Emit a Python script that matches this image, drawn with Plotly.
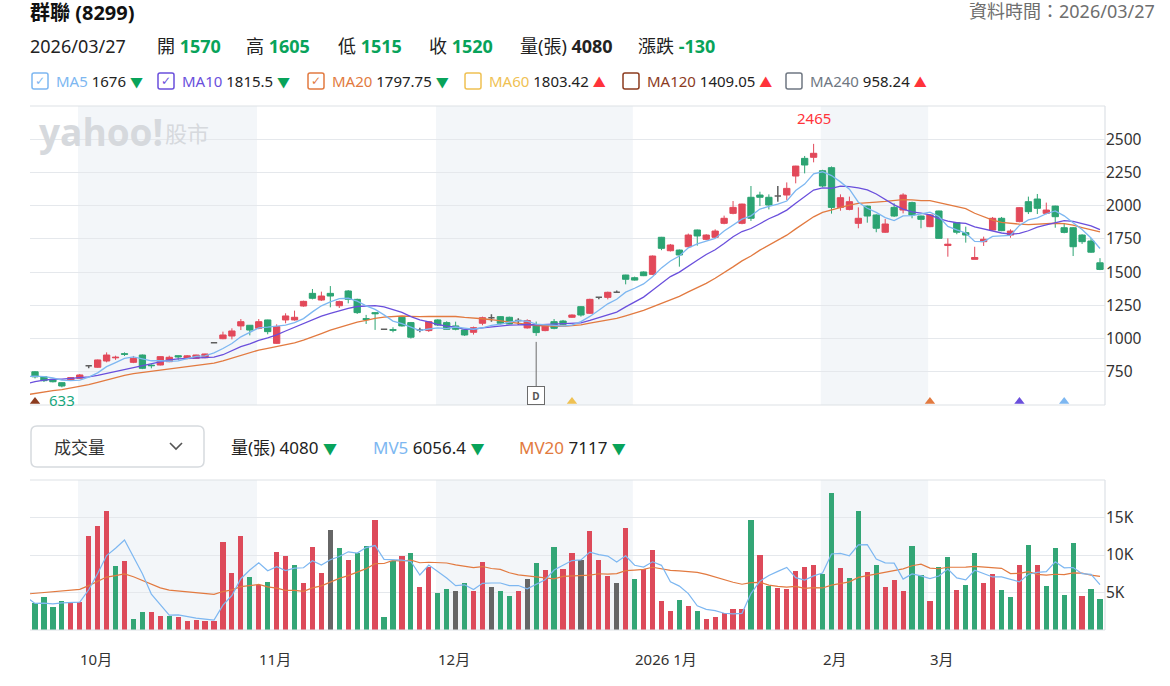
import plotly.graph_objects as go
import pandas as pd

W, H = 1170, 686

# ---------------- data ----------------
# closes / volumes just before the visible window (needed for the first moving-average points)
pre_close = [478, 480, 485, 490, 488, 490, 495, 505, 510, 520,
             537, 570, 610, 640, 660, 690, 705, 720, 730, 723]
pre_volume = [1600, 1600, 1600, 1600, 1600, 1600, 2500, 3200, 3800, 4500,
              5000, 9000, 12000, 13000, 11000, 8000, 4200, 3500, 3200, 3300]

opens = [750, 712, 693, 668, 688, 701, 796, 784, 831, 855,
         886, 821, 876, 800, 801, 826, 871, 849, 851, 856,
         969, 999, 1019, 1095, 1100, 1077, 1140, 964, 1140, 1140,
         1245, 1340, 1290, 1340, 1247, 1358, 1295, 1150, 1195, 1070,
         1067, 1160, 1120, 1065, 1060, 1140, 1120, 1095, 1065, 1047,
         1115, 1157, 1165, 1160, 1135, 1080, 1095, 1060, 1127, 1132,
         1160, 1240, 1190, 1310, 1310, 1348, 1478, 1458, 1501, 1483,
         1762, 1661, 1666, 1691, 1817, 1747, 1762, 1867, 1942, 1867,
         2063, 2080, 2063, 2073, 2080, 2223, 2356, 2364, 2263, 2286,
         1987, 1972, 1867, 1997, 1930, 1800, 1987, 1967, 2023, 1922,
         1842, 1960, 1700, 1872, 1797, 1596, 1729, 1817, 1905, 1779,
         1880, 2030, 2050, 1942, 1997, 1834, 1834, 1779, 1734, 1570]
highs = [755, 715, 696, 670, 708, 733, 796, 842, 896, 871,
         896, 869, 880, 806, 866, 871, 874, 876, 878, 886,
         971, 1052, 1077, 1147, 1102, 1147, 1142, 1107, 1190, 1210,
         1285, 1373, 1353, 1395, 1285, 1365, 1300, 1178, 1200, 1070,
         1085, 1162, 1125, 1082, 1130, 1145, 1130, 1127, 1068, 1090,
         1165, 1182, 1168, 1165, 1152, 1145, 1128, 1108, 1147, 1140,
         1182, 1245, 1300, 1312, 1353, 1362, 1480, 1466, 1505, 1625,
         1765, 1712, 1670, 1790, 1820, 1785, 1822, 1925, 2035, 2015,
         2148, 2105, 2085, 2148, 2175, 2300, 2374, 2465, 2270, 2295,
         2085, 2068, 1987, 2000, 1935, 1900, 2018, 2093, 2030, 1925,
         1935, 1962, 1754, 1875, 1842, 1691, 1767, 1915, 1915, 1822,
         1988, 2068, 2088, 2023, 2000, 1867, 1840, 1785, 1757, 1605]
lows = [700, 673, 670, 633, 685, 698, 776, 780, 821, 840,
        869, 815, 770, 776, 798, 822, 840, 845, 848, 852,
        967, 995, 994, 1064, 1024, 1070, 1032, 960, 1115, 1135,
        1240, 1295, 1283, 1235, 1230, 1265, 1185, 1110, 1065, 1070,
        1047, 1090, 1000, 1047, 1050, 1095, 1065, 1062, 1020, 1030,
        1100, 1127, 1110, 1108, 1102, 1075, 1020, 1055, 1070, 1100,
        1155, 1165, 1185, 1295, 1295, 1345, 1408, 1436, 1470, 1478,
        1665, 1655, 1541, 1685, 1699, 1740, 1755, 1860, 1935, 1860,
        1885, 1997, 1972, 2030, 2043, 2168, 2243, 2326, 2140, 1940,
        1962, 1965, 1830, 1872, 1800, 1795, 1915, 1942, 1905, 1830,
        1838, 1750, 1616, 1785, 1722, 1596, 1697, 1812, 1808, 1759,
        1875, 1937, 1937, 1935, 1834, 1792, 1621, 1712, 1645, 1515]
closes = [712, 683, 675, 643, 706, 726, 796, 839, 876, 859,
          882, 851, 776, 796, 864, 859, 862, 870, 876, 884,
          969, 1027, 1057, 1127, 1064, 1127, 1052, 1090, 1170, 1160,
          1280, 1303, 1320, 1320, 1278, 1295, 1195, 1143, 1187, 1070,
          1063, 1095, 1010, 1065, 1127, 1102, 1070, 1070, 1027, 1082,
          1157, 1157, 1115, 1110, 1135, 1135, 1045, 1102, 1077, 1107,
          1177, 1177, 1295, 1310, 1348, 1348, 1446, 1440, 1473, 1621,
          1679, 1704, 1629, 1779, 1772, 1779, 1809, 1905, 1987, 2012,
          1905, 2063, 2005, 2073, 2130, 2298, 2306, 2394, 2148, 1987,
          2060, 2030, 1905, 1922, 1830, 1862, 1922, 2080, 1930, 1897,
          1930, 1754, 1710, 1800, 1779, 1610, 1747, 1905, 1812, 1809,
          1985, 1955, 1980, 1967, 1917, 1799, 1691, 1729, 1650, 1520]
volumes = [3560, 4360, 3025, 3870, 3690, 3690, 12530, 13870, 15870, 8530,
           9200, 1510, 2355, 2355, 1870, 1870, 1690, 1200, 1330, 1200,
           1200, 11690, 7560, 12530, 7020, 6000, 6360, 10360, 9870, 8670,
           6220, 11020, 7560, 13330, 10890, 9330, 10220, 11200, 14670, 1690,
           9200, 9870, 10220, 5690, 8360, 4890, 5470, 5200, 6220, 5200,
           9020, 5690, 5200, 4530, 5200, 6840, 8890, 8000, 11020, 8180,
           10220, 9330, 13200, 9330, 7200, 6220, 13560, 6840, 8180, 10670,
           3870, 2530, 4000, 3200, 2530, 1510, 1690, 2220, 2850, 2850,
           14670, 10000, 5910, 5650, 5470, 7870, 8400, 8670, 7510, 18220,
           8220, 6890, 15870, 7690, 8670, 5690, 6670, 5200, 11200, 7330,
           3870, 8400, 9780, 5330, 6000, 10310, 6220, 7510, 5330, 4360,
           8670, 11330, 8670, 5870, 10890, 4670, 11560, 4530, 5470, 4080]

month_start_idx = [5, 25, 45, 67, 88, 100]
month_labels = ['10月', '11月', '12月', '2026 1月', '2月', '3月']
shaded_month_pos = [0, 2, 4]          # Oct, Dec, Feb bands
price_ticks = [750, 1000, 1250, 1500, 1750, 2000, 2250, 2500]
price_range = [500, 2750]
vol_ticks = [5000, 10000, 15000]
vol_tick_labels = ['5K', '10K', '15K']
vol_range = [0, 20000]
event_idx = [0, 60, 100, 110, 115]
event_ma = ['MA120', 'MA60', 'MA20', 'MA10', 'MA5']
dividend_idx = 56

header_title = '群聯 (8299)'
header_time = '資料時間：2026/03/27'
quote_date = '2026/03/27'
quote_items = [('開', '1570'), ('高', '1605'), ('低', '1515'), ('收', '1520')]
quote_volume = '4080'
quote_change = '-130'
ma_legend = [('MA5', '1676', 'down', True), ('MA10', '1815.5', 'down', True),
             ('MA20', '1797.75', 'down', True), ('MA60', '1803.42', 'up', False),
             ('MA120', '1409.05', 'up', False), ('MA240', '958.24', 'up', False)]
mv_legend = [('量(張)', '4080'), ('MV5', '6056.4'), ('MV20', '7117')]

# ---------------- styles ----------------
RED = '#e2495a'
GREEN = '#2ca473'
GRAY = '#5e5e5e'
VRED = '#dd4a5a'
VGREEN = '#33a676'
VGRAY = '#666666'
MA_COL = {'MA5': '#7db7f1', 'MA10': '#6a4fdc', 'MA20': '#e27a40',
          'MA60': '#efc153', 'MA120': '#8c3b1e', 'MA240': '#6f7782'}
BAND = '#f3f6f9'
GRID = '#e5e8ec'
BORDER = '#dde1e6'
TGREEN = '#08a35a'
TRED = '#ff333a'
FONT = 'Noto Sans, Noto Sans CJK TC, sans-serif'

X0, X1 = 30, 1105
P_TOP, P_BOT = 106, 405
V_TOP, V_BOT = 480, 630


def px(x):
    return x / W


def py(y):
    return 1 - y / H


n = len(closes)
idx = list(range(n))
npre = len(pre_close)

# moving averages
full_c = pd.Series(pre_close + closes, dtype=float)
full_v = pd.Series(pre_volume + volumes, dtype=float)
ma_x = list(range(-1, n))
ma = {k: full_c.rolling(p).mean().iloc[npre - 1:].tolist() for k, p in [('MA5', 5), ('MA10', 10), ('MA20', 20)]}
mv5 = full_v.rolling(5).mean().iloc[npre - 1:].tolist()
mv20 = full_v.rolling(20).mean().iloc[npre - 1:].tolist()

fig = go.Figure()

# candles split by direction
groups = {'up': [], 'down': [], 'flat': []}
for i in idx:
    if closes[i] > opens[i]:
        groups['up'].append(i)
    elif closes[i] < opens[i]:
        groups['down'].append(i)
    else:
        groups['flat'].append(i)
for key, col, lw in [('up', RED, 1), ('down', GREEN, 1), ('flat', GRAY, 1.5)]:
    g = groups[key]
    fig.add_trace(go.Candlestick(
        x=g, open=[opens[i] for i in g], high=[highs[i] for i in g],
        low=[lows[i] for i in g], close=[closes[i] for i in g],
        increasing=dict(line=dict(color=col, width=lw), fillcolor=col),
        decreasing=dict(line=dict(color=col, width=lw), fillcolor=col),
        whiskerwidth=0, showlegend=False, hoverinfo='skip', xaxis='x', yaxis='y'))

for k in ['MA20', 'MA10', 'MA5']:
    fig.add_trace(go.Scatter(x=ma_x, y=ma[k], mode='lines', line=dict(color=MA_COL[k], width=1.3),
                             showlegend=False, hoverinfo='skip', xaxis='x', yaxis='y'))

# event triangles at bottom of price panel
fig.add_trace(go.Scatter(x=event_idx, y=[price_range[0] + 26] * len(event_idx), mode='markers',
                         marker=dict(symbol='triangle-up', size=9, color=[MA_COL[m] for m in event_ma]),
                         showlegend=False, hoverinfo='skip', xaxis='x', yaxis='y', cliponaxis=False))

# volume
prev_close = [pre_close[-1]] + closes[:-1]
vcol = [VRED if c > p else (VGREEN if c < p else VGRAY) for c, p in zip(closes, prev_close)]
fig.add_trace(go.Bar(x=idx, y=volumes, marker=dict(color=vcol, line=dict(width=0)), width=0.58,
                     showlegend=False, hoverinfo='skip', xaxis='x2', yaxis='y2'))
fig.add_trace(go.Scatter(x=ma_x, y=mv20, mode='lines', line=dict(color=MA_COL['MA20'], width=1.2),
                         showlegend=False, hoverinfo='skip', xaxis='x2', yaxis='y2'))
fig.add_trace(go.Scatter(x=ma_x, y=mv5, mode='lines', line=dict(color=MA_COL['MA5'], width=1.2),
                         showlegend=False, hoverinfo='skip', xaxis='x2', yaxis='y2'))

xr = [-0.56, n - 0.44]
shapes = []
# month bands
bounds = month_start_idx + [n]
for k in shaded_month_pos:
    a, b = month_start_idx[k] - 0.2, bounds[k + 1] - 0.2
    shapes.append(dict(type='rect', xref='x', yref='paper', x0=a, x1=b, y0=py(P_BOT), y1=py(P_TOP),
                       fillcolor=BAND, line=dict(width=0), layer='below'))
    shapes.append(dict(type='rect', xref='x2', yref='paper', x0=a, x1=b, y0=py(V_BOT), y1=py(V_TOP),
                       fillcolor=BAND, line=dict(width=0), layer='below'))
# panel borders (top, bottom, right)
for t, b in [(P_TOP, P_BOT), (V_TOP, V_BOT)]:
    for yy in (t, b):
        shapes.append(dict(type='line', xref='paper', yref='paper', x0=px(X0), x1=px(X1), y0=py(yy), y1=py(yy),
                           line=dict(color=BORDER, width=1.2)))
    shapes.append(dict(type='line', xref='paper', yref='paper', x0=px(X1), x1=px(X1), y0=py(t), y1=py(b),
                       line=dict(color=BORDER, width=1.2)))
# dividend marker line
shapes.append(dict(type='line', xref='x', yref='y', x0=dividend_idx, x1=dividend_idx,
                   y0=price_range[0] + 140, y1=lows[dividend_idx] - 45, line=dict(color='#6b6b6b', width=1)))


def rounded(x0, y0, x1, y1, r):
    def P(x, y):
        return f"{px(x):.5f},{py(y):.5f}"
    return (f"M {P(x0 + r, y0)} L {P(x1 - r, y0)} Q {P(x1, y0)} {P(x1, y0 + r)} L {P(x1, y1 - r)} "
            f"Q {P(x1, y1)} {P(x1 - r, y1)} L {P(x0 + r, y1)} Q {P(x0, y1)} {P(x0, y1 - r)} "
            f"L {P(x0, y0 + r)} Q {P(x0, y0)} {P(x0 + r, y0)} Z")


# dropdown box + chevron
shapes.append(dict(type='path', xref='paper', yref='paper', path=rounded(31, 426, 204, 467, 6),
                   line=dict(color='#d6dade', width=1.5), fillcolor='white'))
shapes.append(dict(type='path', xref='paper', yref='paper',
                   path=f"M {px(170):.5f},{py(443):.5f} L {px(176):.5f},{py(449):.5f} L {px(182):.5f},{py(443):.5f}",
                   line=dict(color='#555555', width=1.6)))

annotations = []


def ann(x, y, text, size=16, color='#222222', xanchor='left', family=FONT, **kw):
    d = dict(x=px(x), y=py(y), xref='paper', yref='paper', text=text, showarrow=False,
             xanchor=xanchor, yanchor='middle', font=dict(size=size, color=color, family=family))
    d.update(kw)
    annotations.append(d)


# header
ann(28, 12, f"<b>{header_title}</b>", size=20, color='#111111')
ann(1157, 11, header_time, size=18, color='#6e6e6e', xanchor='right')
ann(28, 46, quote_date, size=18)
qx = [155, 244, 336, 427]
for (lab, val), x in zip(quote_items, qx):
    ann(x, 46, f"{lab} <span style='color:{TGREEN}'><b>{val}</b></span>", size=18)
ann(518, 46, f"量(張) <b>{quote_volume}</b>", size=18)
ann(636, 46, f"漲跌 <span style='color:{TGREEN}'><b>{quote_change}</b></span>", size=18)

# MA legend with checkboxes
box_x = [32, 158, 308, 465, 623, 786]
for (name, val, d, checked), bx in zip(ma_legend, box_x):
    c = MA_COL[name]
    shapes.append(dict(type='path', xref='paper', yref='paper', path=rounded(bx, 73, bx + 16, 89, 2),
                       line=dict(color=c, width=1.5), fillcolor='white'))
    if checked:
        ann(bx + 8, 81, '✓', size=12, color=c, xanchor='center', family='DejaVu Sans')
    arrow = f"<span style='color:{TGREEN if d == 'down' else TRED}; font-size:13px'>{'▼' if d == 'down' else '▲'}</span>"
    ann(bx + 22, 81, f"<span style='color:{c}'>{name}</span> {val} {arrow}", size=15)

# volume header
ann(52, 447, '成交量', size=17, color='#333333')
mv_x = [229, 371, 517]
mv_cols = ['#222222', MA_COL['MA5'], MA_COL['MA20']]
for (name, val), x, c in zip(mv_legend, mv_x, mv_cols):
    ann(x, 447, f"<span style='color:{c}'>{name}</span> {val} <span style='color:{TGREEN}; font-size:14px'>▼</span>",
        size=17)

# watermark
ann(37, 131, '<b>yahoo!</b>', size=37, color='#d6d9dd', family='Open Sans, sans-serif')
ann(163, 132, '股市', size=22, color='#d6d9dd', family='Noto Sans CJK TC')

# month labels
for m, lab in zip(month_start_idx, month_labels):
    annotations.append(dict(x=m - 0.2, y=py(659), xref='x2', yref='paper', text=lab, showarrow=False,
                            xanchor='left', yanchor='middle', font=dict(size=15, color='#333333', family=FONT)))

# high / low labels
hi_i = max(idx, key=lambda i: highs[i])
lo_i = min(idx, key=lambda i: lows[i])
annotations.append(dict(x=hi_i, y=highs[hi_i], xref='x', yref='y', text=str(highs[hi_i]), showarrow=False,
                        yanchor='bottom', yshift=14, font=dict(size=15, color=TRED, family=FONT)))
annotations.append(dict(x=lo_i, y=lows[lo_i], xref='x', yref='y', text=str(lows[lo_i]), showarrow=False,
                        yanchor='top', yshift=-1, font=dict(size=15, color='#17a77d', family=FONT)))
# dividend box
annotations.append(dict(x=dividend_idx, y=price_range[0] + 68, xref='x', yref='y', text='<b>D</b>',
                        showarrow=False, bgcolor='white', bordercolor='#6b6b6b', borderwidth=1, borderpad=2,
                        width=12, height=13, font=dict(size=10, color='#555555', family=FONT)))

axis_common = dict(showgrid=False, zeroline=False, showticklabels=False, ticks='', fixedrange=True,
                   domain=[px(X0), px(X1)], range=xr, showline=False)
fig.update_layout(
    width=W, height=H, margin=dict(l=0, r=0, t=0, b=0), autosize=False,
    paper_bgcolor='white', plot_bgcolor='white', showlegend=False,
    boxgap=0.16, boxgroupgap=0.16, bargap=0,
    font=dict(family=FONT, color='#333333'),
    xaxis=dict(**axis_common, anchor='y', rangeslider=dict(visible=False)),
    xaxis2=dict(**axis_common, anchor='y2'),
    yaxis=dict(domain=[py(P_BOT), py(P_TOP)], range=price_range, side='right', anchor='x',
               tickvals=price_ticks, showgrid=True, gridcolor=GRID, gridwidth=1, zeroline=False,
               ticks='', tickfont=dict(size=15.5, color='#333333'), fixedrange=True, showline=False),
    yaxis2=dict(domain=[py(V_BOT), py(V_TOP)], range=vol_range, side='right', anchor='x2',
                tickvals=vol_ticks, ticktext=vol_tick_labels, showgrid=True, gridcolor=GRID, gridwidth=1,
                zeroline=False, ticks='', tickfont=dict(size=15.5, color='#333333'), fixedrange=True,
                showline=False),
    shapes=shapes, annotations=annotations,
)

fig.write_html("out.html", config={'displayModeBar': False})
